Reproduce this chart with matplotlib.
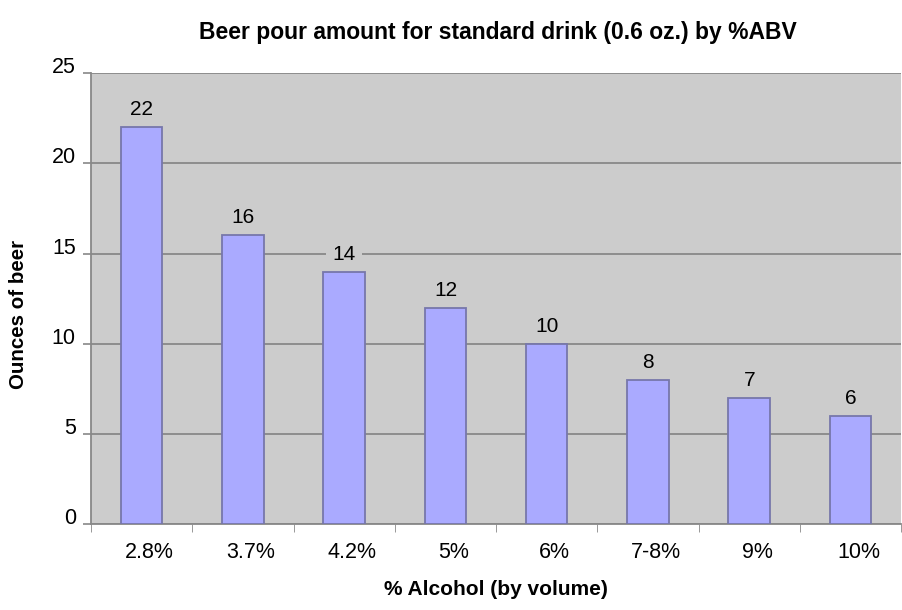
import matplotlib.pyplot as plt
import matplotlib.transforms as mtransforms
import numpy as np

# chart data
categories = ['2.8%', '3.7%', '4.2%', '5%', '6%', '7-8%', '9%', '10%']
ounces = [22, 16, 14, 12, 10, 8, 7, 6]

plt.rcParams['font.family'] = ['Liberation Sans', 'DejaVu Sans']

fig = plt.figure(figsize=(9.02, 6.10), dpi=100)
ax = fig.add_axes([0.101, 0.141, 0.898, 0.739])
ax.set_facecolor('#cccccc')

x = np.arange(len(categories))
ax.bar(x, ounces, width=0.41, color='#aaaaff', edgecolor='#7777aa',
       linewidth=1.3, zorder=3)

# value labels sit on a background-coloured box that hides the gridline
for xi, v in zip(x, ounces):
    ax.text(xi, v + 0.97, str(v), ha='center', va='center', fontsize=15,
            zorder=2, bbox=dict(boxstyle='square,pad=0.3', facecolor='#cccccc',
                                edgecolor='none'))

ax.set_xlim(-0.5, len(categories) - 0.5)
ax.set_ylim(0, 25)
ax.set_yticks(np.arange(0, 26, 5))
ax.yaxis.grid(True, color='#888888', linewidth=1.3, zorder=1)

# category labels (sitting a little right of centre), ticks at the boundaries
ax.set_xticks(x)
ax.set_xticklabels(categories, fontsize=15.5)
ax.set_xticks(np.arange(len(categories) + 1) - 0.5, minor=True)
ax.tick_params(axis='x', which='major', length=0, pad=13)
ax.tick_params(axis='x', which='minor', length=6, color='#888888', direction='out')
ax.tick_params(axis='y', length=6, width=1.2, color='#888888', labelsize=15.5, pad=5)

shift_x = mtransforms.ScaledTranslation(8 / 100, 0, fig.dpi_scale_trans)
for lab in ax.get_xticklabels():
    lab.set_transform(lab.get_transform() + shift_x)
shift_y = mtransforms.ScaledTranslation(0, 8 / 100, fig.dpi_scale_trans)
for lab in ax.get_yticklabels():
    lab.set_transform(lab.get_transform() + shift_y)

for side in ['top', 'right']:
    ax.spines[side].set_visible(False)
for side in ['left', 'bottom']:
    ax.spines[side].set_color('#888888')
    ax.spines[side].set_linewidth(1.3)

fig.text(0.552, 0.946, 'Beer pour amount for standard drink (0.6 oz.) by %ABV',
         ha='center', va='center', fontsize=16.5, fontweight='bold')
fig.text(0.55, 0.033, '% Alcohol (by volume)', ha='center', va='center',
         fontsize=15, fontweight='bold')
fig.text(0.021, 0.484, 'Ounces of beer', ha='center', va='center', rotation=90,
         fontsize=14.8, fontweight='bold')

plt.savefig('out.png', dpi=100)
